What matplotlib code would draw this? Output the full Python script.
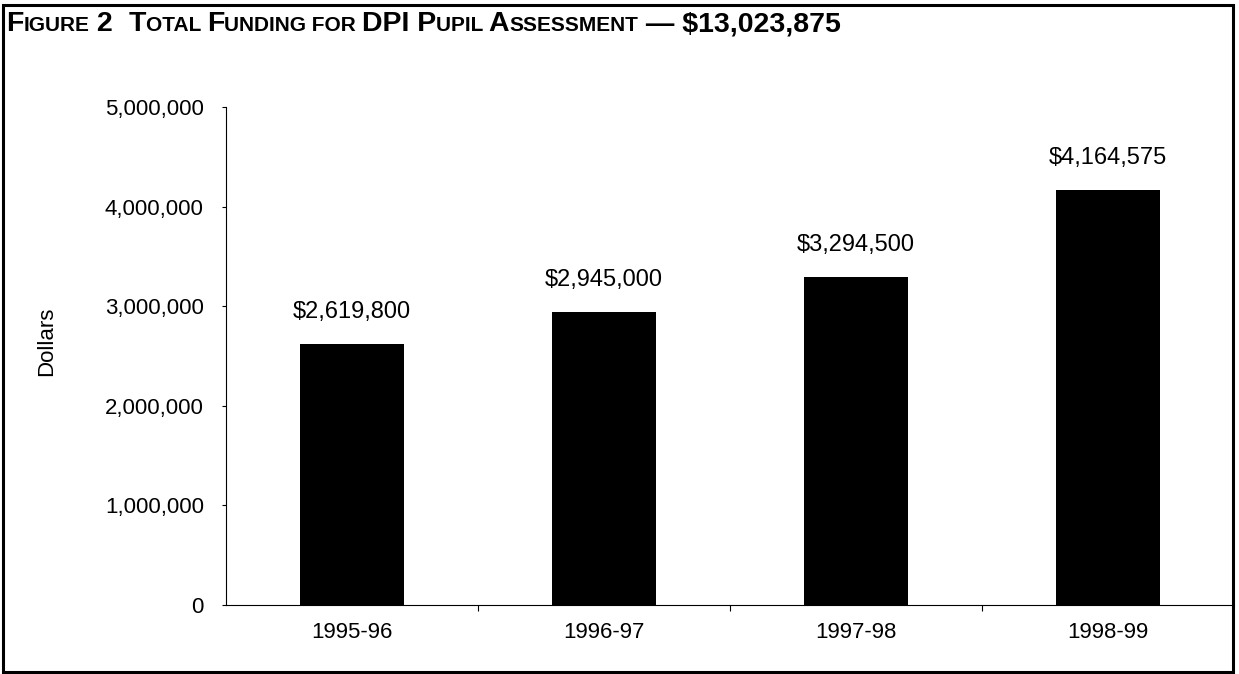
import matplotlib
matplotlib.use("Agg")
import matplotlib.pyplot as plt
from matplotlib.ticker import FuncFormatter
from matplotlib.patches import Rectangle

# data
years = ["1995-96", "1996-97", "1997-98", "1998-99"]
funding = [2619800, 2945000, 3294500, 4164575]
y_ticks = [0, 1000000, 2000000, 3000000, 4000000, 5000000]

plt.rcParams['font.family'] = ['Liberation Sans', 'DejaVu Sans']

W, H = 1239, 674
fig = plt.figure(figsize=(W / 100, H / 100), dpi=100)
ax = fig.add_axes([226 / W, 1 - 605 / H, 1008 / W, (605 - 107) / H])

pos = list(range(len(years)))
ax.bar(pos, funding, width=0.41, color='black')

# value labels above bars
for x, v in zip(pos, funding):
    ax.annotate(f"${v:,.0f}", (x, v), xytext=(0, 23), textcoords='offset points',
                ha='center', va='center', fontsize=17)

ax.set_xlim(-0.5, 3.5)
ax.set_ylim(0, 5000000)
ax.set_yticks(y_ticks)
ax.yaxis.set_major_formatter(FuncFormatter(lambda v, p: f"{v:,.0f}"))
ax.tick_params(axis='y', labelsize=16, length=3, width=0.8, pad=13)

# category labels centred, tick marks on the boundaries
ax.set_xticks(pos)
ax.set_xticklabels(years, fontsize=16)
ax.tick_params(axis='x', length=0, pad=12)
ax.set_xticks([0.5, 1.5, 2.5], minor=True)
ax.tick_params(axis='x', which='minor', length=4, width=0.8)

ax.set_ylabel("Dollars", fontsize=16)
ax.yaxis.set_label_coords(-0.168, 0.53)

for s in ['top', 'right']:
    ax.spines[s].set_visible(False)
ax.spines['left'].set_linewidth(0.8)
ax.spines['bottom'].set_linewidth(0.8)

# outer frame of the figure box
fig.patches.append(Rectangle((3 / W, 2 / H), 1230 / W, 667 / H, transform=fig.transFigure,
                             fill=False, edgecolor='black', linewidth=2.2))

# small-caps title built from runs of big / small capitals
big, small = 20.5, 15
runs = [("F", big), ("IGURE", small), (" 2  ", big), ("T", big), ("OTAL ", small),
        ("F", big), ("UNDING FOR ", small), ("DPI P", big), ("UPIL ", small),
        ("A", big), ("SSESSMENT", small), (" \u2014 $13,023,875", big)]
renderer = fig.canvas.get_renderer()
x = 6
for s, size in runs:
    t = fig.text(x / W, 1 - 31 / H, s, fontsize=size, fontweight='bold',
                 family=['Liberation Sans Narrow', 'Liberation Sans', 'DejaVu Sans'],
                 va='baseline', ha='left')
    bb = t.get_window_extent(renderer)
    x = bb.x1

fig.savefig("out.png", dpi=100)
